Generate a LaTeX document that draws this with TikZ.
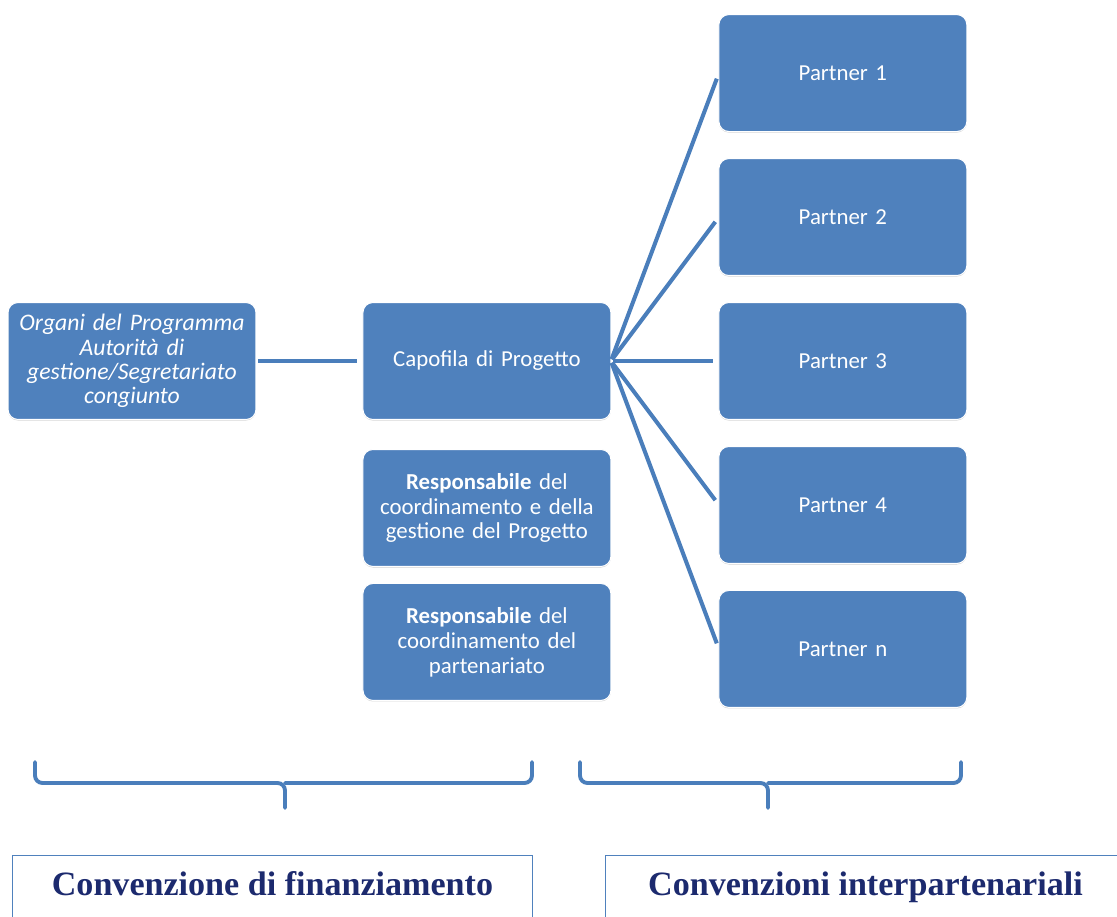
\documentclass[tikz,border=0pt]{standalone}
\usepackage{xcolor}
\usepackage{fontspec}
\setmainfont{Carlito}
\newfontfamily\convfont{Liberation Serif}
\usepackage{tikz}
\usetikzlibrary{positioning,shadows}

\definecolor{boxblue}{HTML}{4F81BD}
\definecolor{lineblue}{HTML}{4A7EBB}
\definecolor{convnavy}{HTML}{1C2A6E}

\begin{document}
\begin{tikzpicture}[
    x=0.02cm, y=-0.02cm,
    blockbox/.style={rectangle, draw=white, line width=0.6pt, fill=boxblue, text=white, text width=4.64cm, inner xsep=0.16cm, align=center, minimum height=2.34cm, rounded corners=0.2cm, outer sep=0pt, font=\fontsize{13}{14.2}\selectfont, drop shadow={shadow xshift=0pt, shadow yshift=-0.6pt, opacity=0.35}},
    link/.style={draw=lineblue, line width=2.3pt, shorten <=0.04cm, shorten >=0.12cm},
    brace/.style={draw=lineblue, line width=2.2pt, rounded corners=0.15cm, line cap=round},
    convbox/.style={rectangle, draw=boxblue, line width=0.6pt, text=convnavy, minimum width=10.4cm, inner ysep=0pt, text height=0.8cm, text depth=1.2cm, align=center, font=\convfont\bfseries\fontsize{19.4}{22}\selectfont}
]
\useasboundingbox (0,0) rectangle (1117,917);

\node[blockbox, font=\fontsize{13.5}{13.8}\selectfont\itshape] (organi) at (132,361) {Organi del Programma\\Autorità di\\gestione/Segretariato\\congiunto};
\node[blockbox, right=2.14cm of organi] (capofila) {Capofila di Progetto};
\node[blockbox, below=0.6cm of capofila] (respgest) {\textbf{Responsabile} del\\coordinamento e della\\gestione del Progetto};
\node[blockbox, below=0.34cm of respgest] (resppart) {\textbf{Responsabile} del\\coordinamento del\\partenariato};

\node[blockbox, right=2.16cm of capofila] (partner3) {Partner 3};
\node[blockbox, above=0.54cm of partner3] (partner2) {Partner 2};
\node[blockbox, above=0.54cm of partner2] (partner1) {Partner 1};
\node[blockbox, below=0.54cm of partner3] (partner4) {Partner 4};
\node[blockbox, below=0.54cm of partner4] (partnern) {Partner n};

\draw[link] (organi) -- (capofila);
\draw[link] (capofila.east) -- (partner1.west);
\draw[link] (capofila.east) -- (partner2.west);
\draw[link] (capofila.east) -- (partner3.west);
\draw[link] (capofila.east) -- (partner4.west);
\draw[link] (capofila.east) -- (partnern.west);

% braces
\draw[brace] (35,762) |- (285,783) -- (285,808);
\draw[brace] (285,783) -| (532,762);
\draw[brace] (580,762) |- (768,783) -- (768,808);
\draw[brace] (768,783) -| (961,762);

\node[convbox, anchor=north west] (convfin) at (12,855) {Convenzione di finanziamento};
\node[convbox, anchor=north west] (convint) at (605,855) {Convenzioni interpartenariali};

\end{tikzpicture}
\end{document}
